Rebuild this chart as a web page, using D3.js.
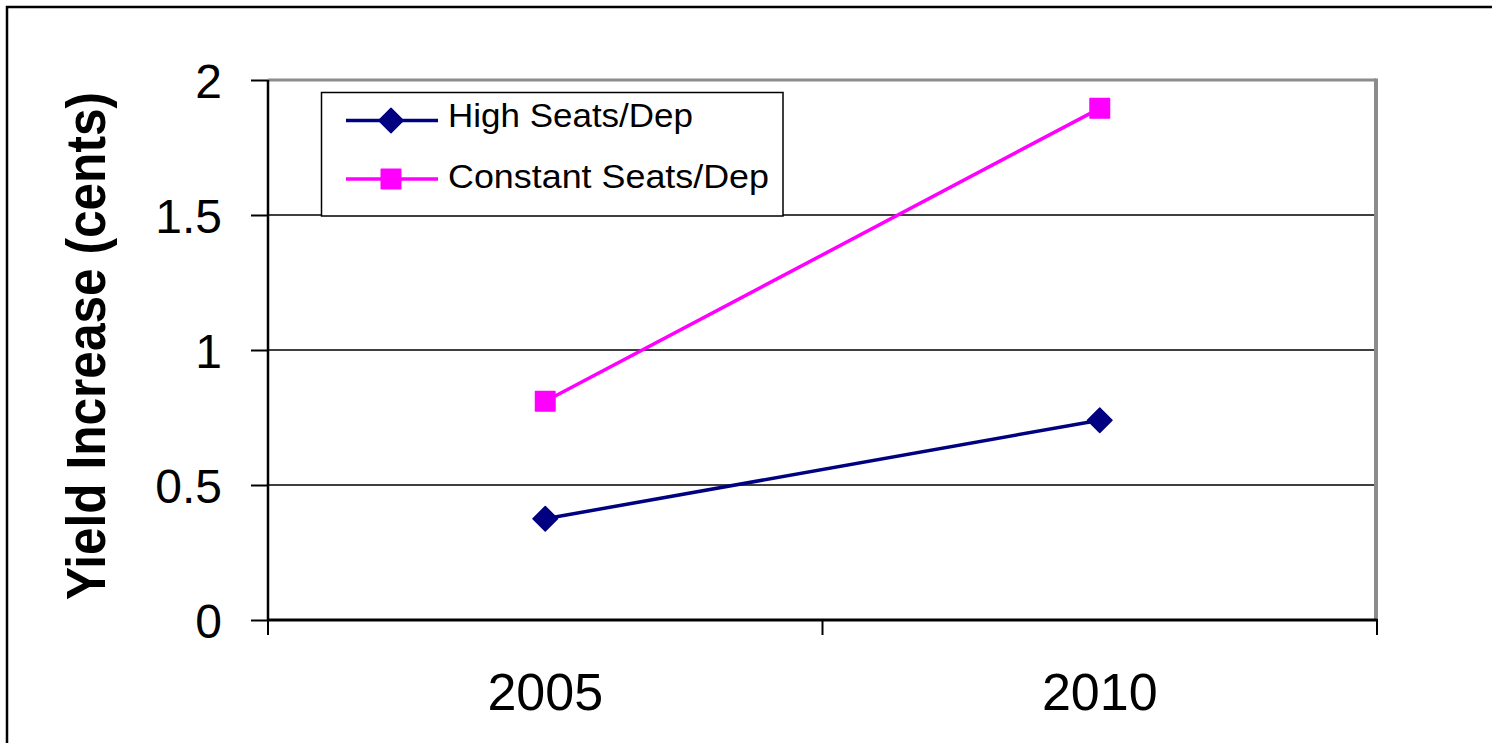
<!DOCTYPE html>
<html>
<head>
<meta charset="utf-8">
<script src="https://cdn.jsdelivr.net/npm/d3@7"></script>
<style>
  html, body { margin: 0; padding: 0; background: #fff; }
  svg { display: block; font-family: Arial, "Liberation Sans", sans-serif; }
</style>
</head>
<body>
<svg id="chart" width="1492" height="743"></svg>
<script>
const categories = ["2005", "2010"];
const highSeats = [0.375, 0.74];
const constantSeats = [0.81, 1.895];
const yTicks = [0, 0.5, 1, 1.5, 2];
const seriesNames = ["High Seats/Dep", "Constant Seats/Dep"];
const yTitle = "Yield Increase (cents)";

const series = [
  { name: seriesNames[0], values: highSeats, color: "#000080", marker: "diamond" },
  { name: seriesNames[1], values: constantSeats, color: "#FF00FF", marker: "square" }
];

const svg = d3.select("#chart");
const L = 268, R = 1377, T = 80, B = 620;

const x = d3.scaleBand().domain(categories).range([L, R]);
const y = d3.scaleLinear().domain([0, 2]).range([B, T]);

// outer frame
svg.append("rect").attr("x", 7).attr("y", 7).attr("width", 1600).attr("height", 900)
  .attr("fill", "none").attr("stroke", "#000").attr("stroke-width", 2.5);

// gridlines
svg.append("g").selectAll("line").data(yTicks.filter(d => d > 0 && d < 2)).join("line")
  .attr("x1", L).attr("x2", R - 2).attr("y1", d => y(d)).attr("y2", d => y(d))
  .attr("stroke", "#000").attr("stroke-width", 1.5);

// plot area gray border (top & right)
svg.append("line").attr("x1", L).attr("x2", R - 1).attr("y1", T).attr("y2", T)
  .attr("stroke", "#8c8c8c").attr("stroke-width", 3);
svg.append("line").attr("x1", R - 1).attr("x2", R - 1).attr("y1", T - 1.5).attr("y2", B)
  .attr("stroke", "#8c8c8c").attr("stroke-width", 4);

// y axis
const yAxis = d3.axisLeft(y).tickValues(yTicks).tickSize(17).tickPadding(30)
  .tickFormat(d => d3.format("")(d));
const gy = svg.append("g").attr("transform", `translate(${L},0)`).call(yAxis);
gy.select(".domain").attr("stroke", "#000").attr("stroke-width", 2.5).attr("d", `M0,${T}V${B}`);
gy.selectAll(".tick line").attr("stroke", "#000").attr("stroke-width", 2);
gy.selectAll(".tick text").attr("font-size", 48).attr("fill", "#000")
  .attr("font-family", "Arial, 'Liberation Sans', sans-serif").attr("x", -46).attr("dy", "0.36em");

// x axis
const xAxis = d3.axisBottom(x).tickSize(0).tickPadding(0);
const gx = svg.append("g").attr("transform", `translate(0,${B})`).call(xAxis);
gx.select(".domain").attr("stroke", "#000").attr("stroke-width", 3).attr("d", `M${L},0H${R}`);
gx.selectAll(".tick text").attr("font-size", 52).attr("fill", "#000")
  .attr("font-family", "Arial, 'Liberation Sans', sans-serif").attr("y", 90).attr("dy", 0);
// category boundary ticks
const bounds = categories.map(c => x(c)).concat([x(categories[categories.length - 1]) + x.bandwidth()]);
gx.append("g").selectAll("line").data(bounds).join("line")
  .attr("x1", d => d).attr("x2", d => d).attr("y1", -1).attr("y2", 15)
  .attr("stroke", "#000").attr("stroke-width", 2);

// y title
svg.append("text")
  .attr("transform", `translate(105,${(92 + 600) / 2}) rotate(-90)`)
  .attr("text-anchor", "middle").attr("font-weight", "bold").attr("font-size", 55)
  .attr("textLength", 508).attr("lengthAdjust", "spacingAndGlyphs")
  .attr("fill", "#000").text(yTitle);

// lines and markers
const line = d3.line().x((d, i) => x(categories[i]) + x.bandwidth() / 2).y(d => y(d));
const diamond = d3.symbol().type(d3.symbolSquare).size(300);
const square = d3.symbol().type(d3.symbolSquare).size(380);

function drawMarker(g, type, cx, cy, color) {
  if (type === "diamond") {
    g.append("path").attr("d", diamond()).attr("fill", color)
      .attr("stroke", color).attr("stroke-width", 1.5).attr("stroke-linejoin", "round")
      .attr("transform", `translate(${cx},${cy}) rotate(45)`);
  } else {
    g.append("path").attr("d", square()).attr("fill", color)
      .attr("stroke", color).attr("stroke-width", 1.5).attr("stroke-linejoin", "round")
      .attr("transform", `translate(${cx},${cy})`);
  }
}

series.forEach(s => {
  const g = svg.append("g");
  g.append("path").datum(s.values).attr("d", line).attr("fill", "none")
    .attr("stroke", s.color).attr("stroke-width", 3.5);
  s.values.forEach((v, i) => drawMarker(g, s.marker, x(categories[i]) + x.bandwidth() / 2, y(v), s.color));
});

// legend
const lg = svg.append("g");
lg.append("rect").attr("x", 321.5).attr("y", 92.5).attr("width", 461.5).attr("height", 123.5)
  .attr("fill", "#fff").attr("stroke", "#000").attr("stroke-width", 1.5);
const rowsY = [120.5, 179];
const baselines = [127, 187.5];
const textLens = [245, 321];
series.forEach((s, i) => {
  const yy = rowsY[i];
  lg.append("line").attr("x1", 346).attr("x2", 438).attr("y1", yy).attr("y2", yy)
    .attr("stroke", s.color).attr("stroke-width", 3.5);
  drawMarker(lg, s.marker, 391, yy, s.color);
  lg.append("text").attr("x", 448).attr("y", baselines[i]).attr("font-size", 33)
    .attr("textLength", textLens[i]).attr("lengthAdjust", "spacingAndGlyphs")
    .attr("fill", "#000").text(s.name);
});
</script>
</body>
</html>
